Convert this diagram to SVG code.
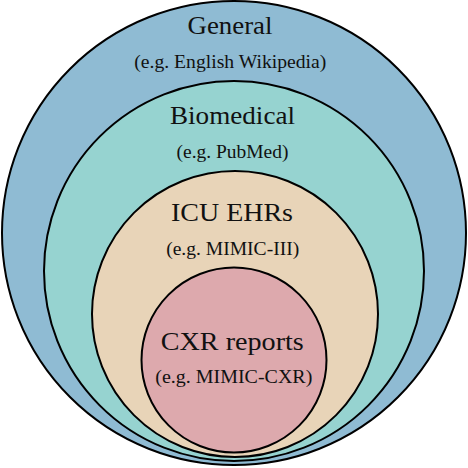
<svg xmlns="http://www.w3.org/2000/svg" width="468" height="468" viewBox="0 0 468 468">
<style>
circle{stroke:#000;stroke-width:2}
text{font-family:"Liberation Serif","Times New Roman",serif;fill:#111;text-anchor:middle}
.t{font-size:26px}
.s{font-size:18px}
</style>
<rect width="468" height="468" fill="#fff"/>
<g id="general">
<circle cx="234" cy="233" r="232" fill="#8FBBD3"/>
<text class="t" x="230" y="33.5" textLength="85" lengthAdjust="spacingAndGlyphs">General</text>
<text class="s" x="230.3" y="67.5" textLength="192" lengthAdjust="spacingAndGlyphs">(e.g. English Wikipedia)</text>
</g>
<g id="biomedical">
<circle cx="234" cy="271" r="190" fill="#96D3D0"/>
<text class="t" x="232.5" y="123.5" textLength="125" lengthAdjust="spacingAndGlyphs">Biomedical</text>
<text class="s" x="232.5" y="157.5" textLength="112" lengthAdjust="spacingAndGlyphs">(e.g. PubMed)</text>
</g>
<g id="icu">
<circle cx="235" cy="314" r="143" fill="#E8D4B8"/>
<text class="t" x="232" y="221" textLength="122" lengthAdjust="spacingAndGlyphs">ICU EHRs</text>
<text class="s" x="232.7" y="254.5" textLength="133" lengthAdjust="spacingAndGlyphs">(e.g. MIMIC-III)</text>
</g>
<g id="cxr">
<circle cx="234" cy="360" r="92.5" fill="#DDA9AD"/>
<text class="t" x="232.3" y="349.5" textLength="143" lengthAdjust="spacingAndGlyphs">CXR reports</text>
<text class="s" x="233.8" y="382.7" textLength="157" lengthAdjust="spacingAndGlyphs">(e.g. MIMIC-CXR)</text>
</g>
<g id="connectors"></g>
</svg>
